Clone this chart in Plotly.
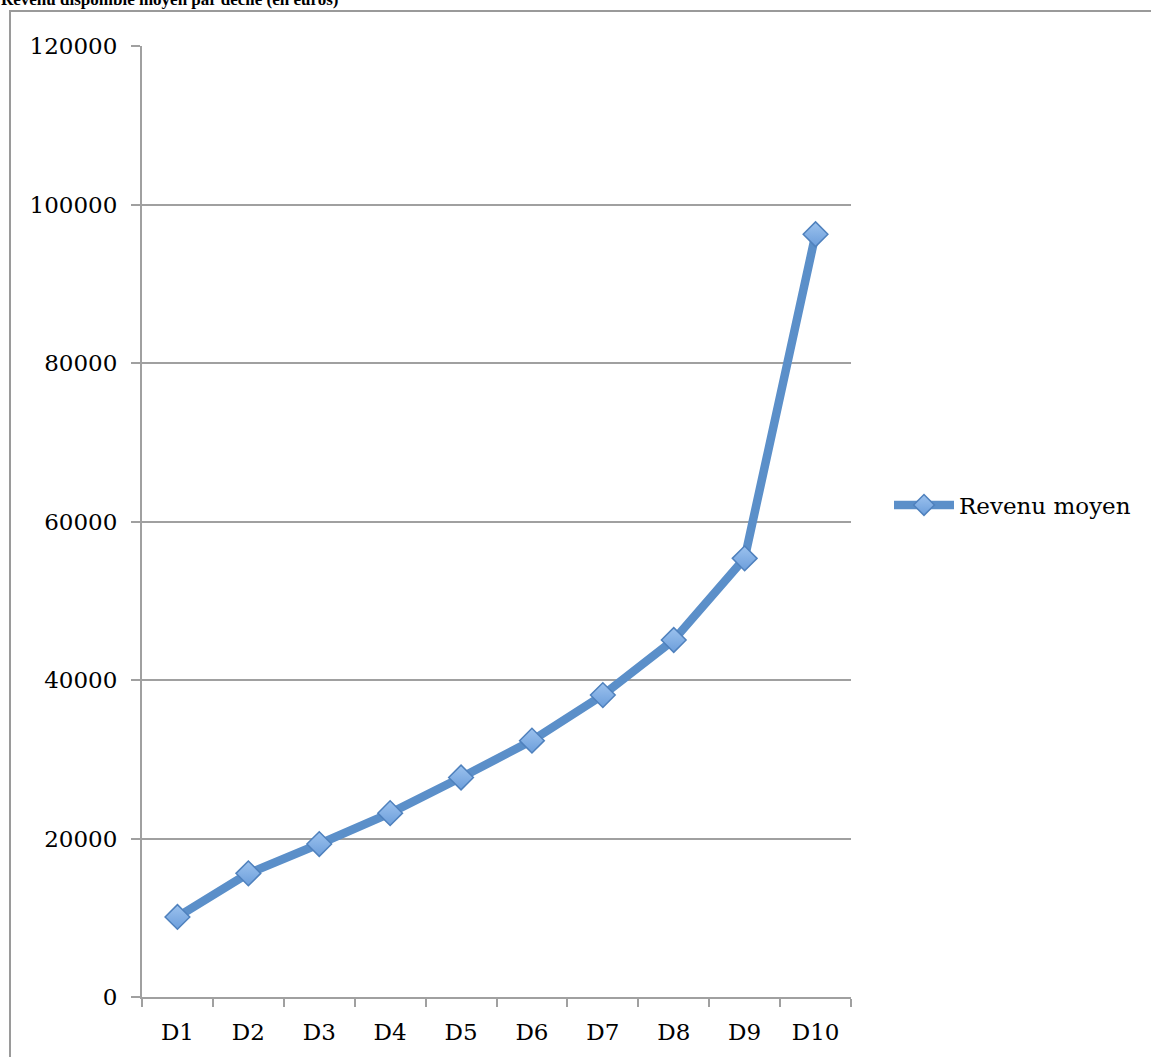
import plotly.graph_objects as go

categories = ["D1", "D2", "D3", "D4", "D5", "D6", "D7", "D8", "D9", "D10"]
revenu_moyen = [10100, 15600, 19300, 23200, 27700, 32350, 38100, 45050, 55350, 96250]
y_ticks = [0, 20000, 40000, 60000, 80000, 100000, 120000]
series_name = "Revenu moyen"
title_text = "Revenu disponible moyen par décile (en euros)"

W, H = 1151, 1057
L, R, T, B = 142, 300, 46, 60
pw, ph = W - L - R, H - T - B

def px_x(x):
    return (x - L) / pw

def px_y(y):
    return (H - B - y) / ph

fig = go.Figure()
fig.add_trace(go.Scatter(
    x=categories, y=revenu_moyen, name=series_name, mode="lines+markers",
    line=dict(color="#5B8FC9", width=8.5),
    marker=dict(symbol="diamond", size=19, color="#9CC2EE",
                gradient=dict(type="vertical", color="#6C9EDB"),
                line=dict(color="#4F81BD", width=1.5)),
))

axis_font = dict(family="DejaVu Serif", size=23, color="#000000")
fig.update_layout(
    width=W, height=H,
    margin=dict(l=L, r=R, t=T, b=B, pad=0),
    paper_bgcolor="white", plot_bgcolor="white",
    showlegend=True,
    legend=dict(x=px_x(889), y=px_y(505), xanchor="left", yanchor="middle",
                font=axis_font, itemwidth=60, bgcolor="rgba(0,0,0,0)",
                tracegroupgap=0),
    xaxis=dict(type="category", range=[-0.5, 9.5], tickson="boundaries",
               ticks="outside", ticklen=8, tickwidth=2, tickcolor="#A0A0A0",
               showline=True, linecolor="#A0A0A0", linewidth=2,
               showgrid=False, zeroline=False, tickfont=axis_font,
               ticklabelstandoff=13),
    yaxis=dict(range=[0, 120000], tickvals=y_ticks,
               ticktext=[str(v) for v in y_ticks],
               ticks="outside", ticklen=9, tickwidth=2, tickcolor="#A0A0A0",
               showline=True, linecolor="#A0A0A0", linewidth=2,
               showgrid=True, gridcolor="#A0A0A0", gridwidth=1.5,
               zeroline=False, tickfont=axis_font, ticklabelstandoff=9),
    shapes=[dict(type="rect", xref="paper", yref="paper",
                 x0=px_x(10), x1=px_x(1170), y0=px_y(1090), y1=px_y(11),
                 line=dict(color="#9A9A9A", width=2), fillcolor="rgba(0,0,0,0)",
                 layer="below")],
    annotations=[dict(text="<b>" + title_text + "</b>", xref="paper", yref="paper",
                      x=px_x(0), y=px_y(10), xanchor="left", yanchor="bottom",
                      showarrow=False, borderpad=0,
                      font=dict(family="Liberation Serif", size=17, color="#000000"))],
)

fig.write_html("out.html")
